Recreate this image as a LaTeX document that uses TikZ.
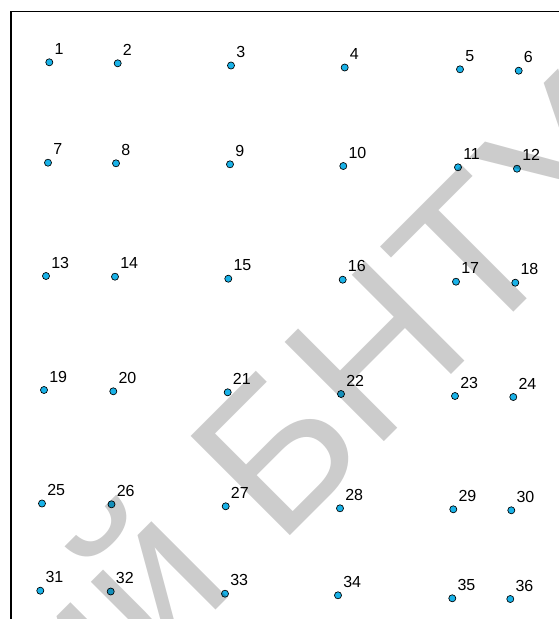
\documentclass[tikz,border=0pt]{standalone}
\usepackage{fontspec}
\setmainfont{Liberation Sans}
\definecolor{dotcyan}{RGB}{25,178,232}
\usetikzlibrary{positioning}

\begin{document}
\begin{tikzpicture}[x=0.75pt,y=-0.75pt,
	spot/.style={circle,draw=black,line width=0.5pt,fill=dotcyan,inner sep=0pt,minimum size=5.3pt},
	num/.style={anchor=base west,inner sep=0pt,font=\fontsize{12}{12}\selectfont},
	wmark/.style={anchor=base west,inner sep=0pt,rotate=45,text=black,opacity=0.2,font=\fontsize{153}{153}\selectfont}]
			\fill[white] (0,0) rectangle (559,619);
			\useasboundingbox (0,0) rectangle (559,619);
			\draw[line width=1.2pt] (11,619) -- (11,11.5) -- (559,11.5);

			\foreach \n/\x/\y in {1/49.3/62.3, 2/117.7/63.3, 3/231/65.5, 4/344.7/67.5, 5/460/69.3, 6/518.7/70.7,
				7/48/162.7, 8/116/163.3, 9/230/164.3, 10/343.3/166, 11/458/167.3, 12/517/168.7,
				13/46/276, 14/115/276.7, 15/228.3/278.7, 16/342.7/279.7, 17/456/281.7, 18/515.3/282.7,
				19/44/390, 20/113.3/391.3, 21/227.7/392.3, 22/341/394, 23/455/396, 24/513.3/397,
				25/42/503.5, 26/111.5/504.3, 27/225.7/506.3, 28/340/508.3, 29/453.3/509.3, 30/511.3/510.3,
				31/40.3/590.7, 32/110.7/591.5, 33/225/593.7, 34/338/595.3, 35/452.3/598.3, 36/510.3/599}
			{
				\node[spot] (p\n) at (\x,\y) {};
				\node[num] (t\n) at (\x+5,\y-8) {\n};
			}

			\node[wmark] (wm) at (278,548) {\llap{Репозиторий }БНТУ};
		\end{tikzpicture}
\end{document}
